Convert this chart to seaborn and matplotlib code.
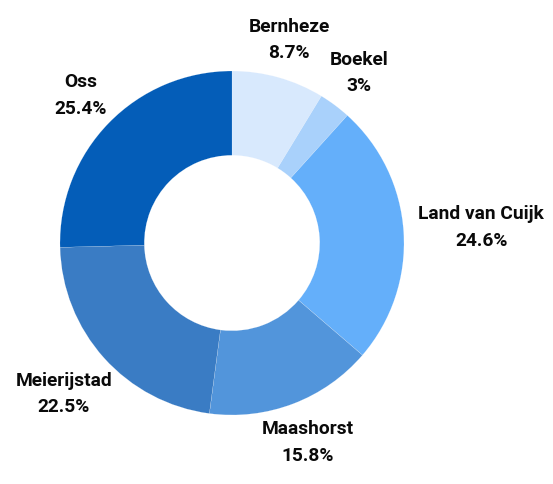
import numpy as np
import matplotlib
matplotlib.use("Agg")
import matplotlib.pyplot as plt
import seaborn as sns

categories = ["Bernheze", "Boekel", "Land van Cuijk", "Maashorst", "Meierijstad", "Oss"]
values = [8.7, 3.0, 24.6, 15.8, 22.5, 25.4]
value_labels = ["8.7%", "3%", "24.6%", "15.8%", "22.5%", "25.4%"]
colors = ["#d8e9fd", "#a9d1fb", "#64affa", "#5295db", "#3a7cc4", "#045db8"]

sns.set_theme(style="white")
plt.rcParams["font.family"] = ["Roboto", "DejaVu Sans"]
palette = sns.color_palette(colors)

W, H = 553, 484
fig = plt.figure(figsize=(W / 100, H / 100), dpi=100)
ax = fig.add_axes([0, 0, 1, 1])

cx, cy, R = 232, H - 243, 172
ax.pie(values, colors=palette, startangle=90, counterclock=False,
       center=(cx, cy), radius=R, frame=True,
       wedgeprops=dict(width=R * 0.49, edgecolor="white", linewidth=0.1))
ax.set_xlim(0, W)
ax.set_ylim(0, H)
ax.set_aspect("equal")
ax.axis("off")

fig.canvas.draw()
renderer = fig.canvas.get_renderer()
total = sum(values)
cum = 0.0
gap = 15
for name, v, lab in zip(categories, values, value_labels):
    mid = 90 - 360 * (cum + v / 2) / total
    cum += v
    a = np.deg2rad(mid)
    t = ax.text(0, 0, f"{name}\n{lab}", ha="center", va="center",
                fontsize=13.8, fontweight="bold", color="#0a0a0a",
                linespacing=1.6)
    bb = t.get_window_extent(renderer)
    w, h = bb.width, bb.height
    d = R + gap + np.hypot(w / 2 * np.cos(a), h / 2 * np.sin(a))
    t.set_position((cx + d * np.cos(a), cy + d * np.sin(a)))

fig.savefig("out.png", dpi=100, facecolor="white")
